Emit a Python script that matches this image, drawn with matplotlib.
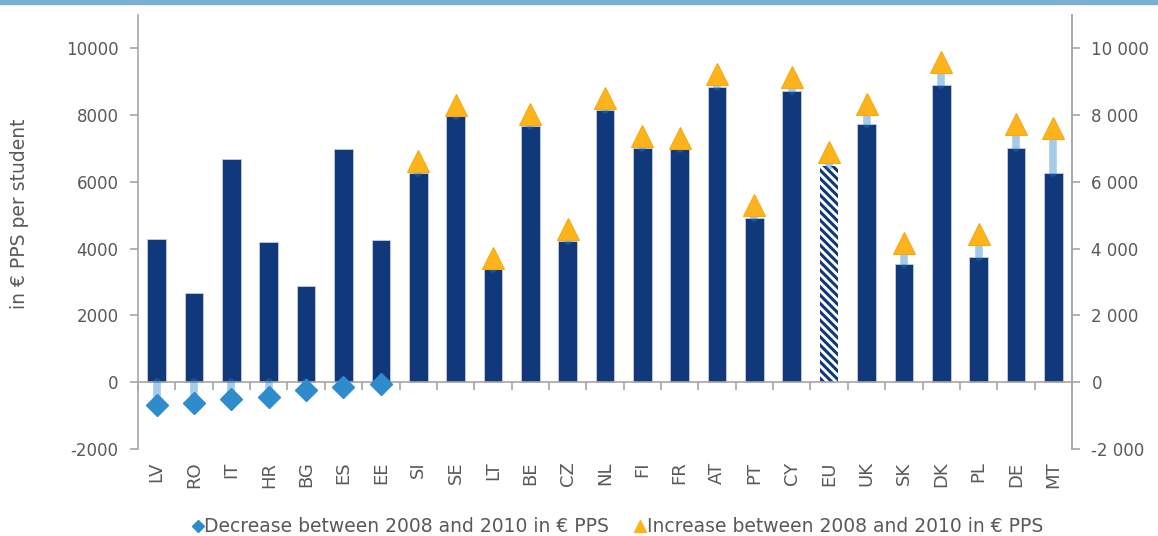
import numpy as np
import matplotlib
matplotlib.use("Agg")
import matplotlib.pyplot as plt
from matplotlib.lines import Line2D
from matplotlib.patches import Rectangle
from matplotlib.ticker import FuncFormatter

plt.rcParams.update({
    "font.family": "DejaVu Sans",
    "font.size": 12,
    "text.color": "#595959",
    "axes.labelcolor": "#595959",
    "xtick.color": "#595959",
    "ytick.color": "#595959",
    "hatch.linewidth": 2.2,
    "axes.unicode_minus": False,
})

# ---- data ----
countries = ["LV", "RO", "IT", "HR", "BG", "ES", "EE", "SI", "SE", "LT", "BE", "CZ", "NL",
             "FI", "FR", "AT", "PT", "CY", "EU", "UK", "SK", "DK", "PL", "DE", "MT"]
spending = [4280, 2660, 6700, 4200, 2870, 7000, 4250, 6280, 7960, 3380, 7680, 4240, 8160,
            7020, 6980, 8840, 4920, 8720, 6480, 7730, 3540, 8910, 3740, 7010, 6260]
change = [-670, -610, -500, -430, -240, -130, -60, 340, 340, 350, 350, 350, 350,
          345, 340, 380, 380, 420, 410, 590, 630, 680, 700, 715, 1370]

NAVY = "#10387a"
DIAMOND = "#2e8bcc"
TRI = "#fdb41c"
STEM = "#207dca"
GRID = "#a6a6a6"

x = np.arange(len(countries))
spending = np.array(spending)
change = np.array(change)

fig = plt.figure(figsize=(11.58, 5.36), dpi=100)
ax = fig.add_axes([138 / 1158, 1 - 449 / 536, (1072 - 138) / 1158, (449 - 15) / 536])

# bars
for xi, c, v in zip(x, countries, spending):
    if c == "EU":
        ax.bar(xi, v, width=0.5, facecolor="white", edgecolor=NAVY, hatch="\\\\\\\\",
               linewidth=0, zorder=2)
    else:
        ax.bar(xi, v, width=0.5, color=NAVY, edgecolor="#c5cde0", linewidth=0.6, zorder=2)

# stems + markers
dec = change < 0
inc = ~dec
for xi, v, d in zip(x[dec], spending[dec], change[dec]):
    ax.plot([xi, xi], [0, d], color=STEM, alpha=0.4, lw=5.5, solid_capstyle="round", zorder=3)
for xi, v, d in zip(x[inc], spending[inc], change[inc]):
    ax.plot([xi, xi], [v, v + d], color=STEM, alpha=0.4, lw=5.5, solid_capstyle="round", zorder=3)

ax.plot(x[dec], change[dec], "D", color=DIAMOND, ms=11.7, mec=DIAMOND, zorder=4, ls="none")
ax.plot(x[inc], spending[inc] + change[inc], "^", color=TRI, ms=16.5, mec="#f5aa10",
        mew=0.8, zorder=4, ls="none")

# axes styling
ax.set_xlim(-0.5, len(countries) - 0.5)
ax.set_ylim(-2000, 11000)
ax.set_yticks(np.arange(-2000, 10001, 2000))
ax.spines["top"].set_visible(False)
ax.spines["bottom"].set_position(("data", 0))
for s in ["left", "right", "bottom"]:
    ax.spines[s].set_color(GRID)
    ax.spines[s].set_linewidth(1.2)
ax.set_xticks(np.arange(len(countries) + 1) - 0.5)
ax.set_xticklabels([])
ax.tick_params(axis="x", length=6, width=1.2, color=GRID, direction="out")
ax.tick_params(axis="y", length=6, width=1.2, color=GRID, pad=8, labelsize=12)

# category labels at the bottom
sec = ax.secondary_xaxis("bottom")
sec.set_xticks(x)
sec.set_xticklabels(countries, rotation=90)
sec.tick_params(length=0, pad=9, labelsize=13)
sec.spines["bottom"].set_visible(False)

# right axis
ax2 = ax.twinx()
ax2.set_ylim(ax.get_ylim())
ax2.set_yticks(np.arange(-2000, 10001, 2000))
ax2.yaxis.set_major_formatter(FuncFormatter(lambda v, p: f"{int(v):,}".replace(",", " ")))
ax2.tick_params(axis="y", length=6, width=1.2, color=GRID, pad=8, labelsize=12)
for s in ["top", "left", "bottom"]:
    ax2.spines[s].set_visible(False)
ax2.spines["right"].set_color(GRID)
ax2.spines["right"].set_linewidth(1.2)

fig.text(20 / 1158, 1 - 214 / 536, "in € PPS per student", rotation=90,
         ha="center", va="center", fontsize=13.5)

# legend
handles = [
    Line2D([], [], marker="D", color=DIAMOND, ls="none", ms=6),
    Line2D([], [], marker="^", color=TRI, ls="none", ms=8),
]
fig.legend(handles, ["Decrease between 2008 and 2010 in € PPS",
                     "Increase between 2008 and 2010 in € PPS"],
           loc="center", bbox_to_anchor=(618 / 1158, 1 - 527 / 536), ncol=2,
           frameon=False, handlelength=0.5, handletextpad=0.1, columnspacing=1.4,
           fontsize=13.5)

# top band of the clipped header
fig.patches.append(Rectangle((0, 1 - 4 / 536), 1, 4 / 536, transform=fig.transFigure,
                             color="#7bafd4", zorder=0))

fig.savefig("out.png", dpi=100)
